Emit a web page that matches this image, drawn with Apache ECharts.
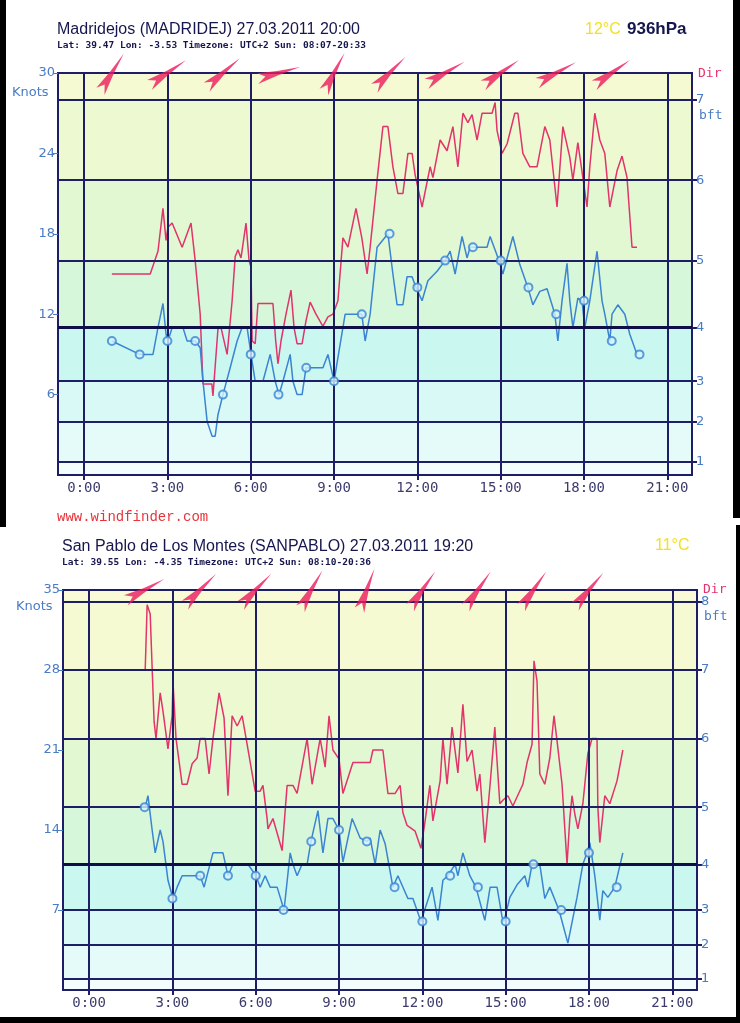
<!DOCTYPE html>
<html><head><meta charset="utf-8">
<script src="https://cdn.jsdelivr.net/npm/echarts@6/dist/echarts.min.js"></script>
<style>html,body{margin:0;padding:0;background:#fff}#c{width:740px;height:1023px}</style>
</head><body><div id="c"></div><script>
// ---------- data ----------
const hourTicks = [0, 3, 6, 9, 12, 15, 18, 21];
const topKnotMax = 30, bottomKnotMax = 35;
const topBft = [1, 4, 7, 11, 16, 22, 28];          // knots at Beaufort 1..7
const bottomBft = [1, 4, 7, 11, 16, 22, 28, 34];   // knots at Beaufort 1..8

// Madridejos gusts [hour, knots]
const topGust = [[1.0,15],[2.38,15],[2.66,16.7],[2.84,19.9],[2.95,17.5],[3.02,18.5],[3.17,18.8],[3.53,17],[3.85,18.8],[4.0,16],[4.18,12],[4.28,6.8],[4.6,6.8],[4.64,5.9],[4.82,10.9],[4.93,11],[5.15,9],[5.33,13],[5.44,16.3],[5.54,16.8],[5.65,16.2],[5.83,18.8],[5.94,16],[6.01,15.5],[6.05,10],[6.16,9.8],[6.26,12.8],[6.8,12.8],[6.9,10],[6.98,8.3],[7.09,10],[7.27,12],[7.45,13.8],[7.56,11],[7.67,9.8],[7.85,9.8],[7.99,11.5],[8.14,12.9],[8.35,12],[8.6,11.1],[8.78,11.8],[8.96,12],[9.14,13],[9.32,17.7],[9.5,17],[9.79,19.9],[10.0,17.7],[10.19,15],[10.3,17],[10.55,22],[10.76,26],[10.94,26],[11.12,23],[11.3,21],[11.48,21],[11.66,24],[11.81,24],[11.92,22.4],[12.17,20],[12.46,23],[12.56,22.2],[12.82,25],[13.07,24.2],[13.28,26],[13.46,23],[13.64,27],[13.82,26.3],[13.97,26.9],[14.15,25],[14.33,27],[14.69,27],[14.8,27.8],[14.87,25.7],[15.05,24],[15.23,24.7],[15.51,27],[15.62,27],[15.8,24],[16.05,23],[16.31,23],[16.59,26],[16.77,25],[17.03,20],[17.24,26],[17.49,23.7],[17.6,22],[17.78,24.8],[17.96,22.2],[18.11,20],[18.21,23],[18.39,27],[18.57,25],[18.75,24],[18.93,20],[19.19,22.7],[19.37,23.8],[19.55,22.2],[19.73,17],[19.91,17]];
// Madridejos average wind [hour, knots]
const topAvg = [[1.0,10],[2.0,9],[2.48,9],[2.66,11],[2.84,12.8],[2.95,10.5],[3.02,10],[3.17,11],[3.56,11],[3.71,10],[4.0,10],[4.18,9.5],[4.28,7],[4.43,4],[4.61,2.9],[4.72,2.9],[4.82,4.5],[5.0,6],[5.26,8],[5.51,10],[5.69,11],[5.87,11],[6.01,9],[6.16,7],[6.44,7],[6.7,9],[6.88,7],[7.02,6],[7.16,7],[7.42,9],[7.52,7],[7.67,6],[7.85,6],[7.99,8],[8.6,8],[8.78,9],[9.0,7],[9.4,12],[9.68,12],[10.0,12],[10.12,10],[10.3,12],[10.55,17],[10.94,18],[11.12,15],[11.27,12.7],[11.48,12.7],[11.63,14.8],[11.81,14.8],[11.95,14],[12.17,13],[12.38,14.5],[12.71,15.2],[13.0,16],[13.18,16.7],[13.36,15],[13.61,17.8],[13.79,16.2],[13.9,17],[14.51,17],[14.62,17.8],[14.94,16],[15.08,15],[15.44,17.8],[15.69,15.7],[15.98,14],[16.16,12.7],[16.41,13.7],[16.67,13.9],[16.85,12.7],[16.95,12],[17.06,10],[17.21,13],[17.39,15.8],[17.49,13],[17.6,11],[17.78,13.2],[17.93,13],[18.03,11],[18.21,13],[18.47,16.7],[18.65,13],[18.75,12],[18.93,10],[19.01,12],[19.22,12.7],[19.47,12],[19.65,10.5],[19.91,9]];
const topHourlyStart = 1;
const topHourly = [10,9,10,10,6,9,6,8,7,12,18,14,16,17,16,14,12,13,10,9];
const topArrowHours = [1,3,5,7,9,11,13,15,17,19];
const topArrowDir = [212,236,229,255,208,225,240,235,242,235];

// San Pablo gusts [hour, knots]
const bottomGust = [[2.02,28],[2.09,33.7],[2.2,32.9],[2.27,28.2],[2.34,23.5],[2.41,22],[2.56,26],[2.66,24.4],[2.84,21.1],[2.99,24],[3.02,27],[3.13,22],[3.35,18],[3.53,18],[3.71,19.8],[3.89,20.3],[4.0,22],[4.18,22],[4.32,18.9],[4.46,22],[4.68,26],[4.86,23.8],[5.0,17],[5.15,24],[5.33,23.1],[5.51,24],[5.69,21.5],[5.98,17.4],[6.16,17.4],[6.26,17.9],[6.41,15],[6.44,14.1],[6.62,15],[6.95,12.2],[7.13,17.9],[7.34,17.9],[7.49,17.2],[7.85,22],[8.03,18],[8.32,22],[8.5,19.5],[8.64,24],[8.78,21],[9.0,20.2],[9.14,17.2],[9.5,19.9],[10.12,19.9],[10.22,21],[10.58,21],[10.76,17.2],[11.02,17.2],[11.2,17.9],[11.3,15.5],[11.45,14.4],[11.74,13.9],[11.95,12.4],[12.1,14.8],[12.27,17.9],[12.38,14.8],[12.64,18.3],[12.74,22],[12.89,18],[13.07,23],[13.28,19],[13.46,25],[13.61,20],[13.79,21],[13.97,17.4],[14.07,18.9],[14.25,12.9],[14.44,18],[14.61,23],[14.79,16.3],[14.9,16.6],[15.08,17],[15.26,16.1],[15.62,18],[15.77,19.9],[15.95,21.5],[16.02,28.8],[16.13,27],[16.23,18.9],[16.41,18],[16.59,20.3],[16.74,24],[16.85,21.8],[17.03,18],[17.21,11],[17.31,15],[17.39,17],[17.49,15.4],[17.6,14.1],[17.78,16.3],[17.96,20.7],[18.11,22],[18.29,22],[18.32,16],[18.39,12.9],[18.57,17],[18.75,16.3],[19.01,18.3],[19.22,21]];
// San Pablo average wind [hour, knots]
const bottomAvg = [[2.02,16],[2.12,17],[2.27,14],[2.38,12],[2.56,14],[2.66,13],[2.84,9.6],[3.02,8],[3.17,9],[3.35,10],[4.0,10],[4.14,9],[4.46,12],[4.82,12],[5.0,10],[5.18,11],[5.72,11],[6.01,10],[6.16,9],[6.34,10],[6.52,9],[6.77,9],[7.02,7],[7.24,12],[7.34,11],[7.49,10],[7.67,11],[7.85,11],[7.99,13],[8.24,15.7],[8.42,12],[8.6,15],[8.78,15],[9.0,14],[9.14,11.2],[9.47,15],[9.76,13.3],[10.01,13],[10.12,13.3],[10.3,11],[10.48,14],[10.66,12.8],[10.94,9],[11.12,10],[11.48,8],[11.66,8],[11.95,6],[12.35,9],[12.56,6.1],[12.74,9.6],[12.92,10],[13.18,11],[13.28,10],[13.46,12],[13.71,10],[13.93,9],[14.25,6.1],[14.44,9],[14.69,9],[14.87,6.4],[14.94,6],[15.15,8.1],[15.41,9.2],[15.69,10],[15.8,9],[15.95,11],[16.23,11],[16.41,8],[16.59,9],[16.92,7],[17.24,4.1],[17.57,8.1],[17.78,11],[17.93,12],[18.03,12.9],[18.21,10],[18.39,6.1],[18.5,8.7],[18.68,8.1],[18.93,9],[19.22,12]];
const bottomHourlyStart = 2;
const bottomHourly = [16,8,10,10,10,7,13,14,13,9,6,10,9,6,11,7,12,9];
const bottomArrowHours = [2,4,6,8,10,12,14,16,18];
const bottomArrowDir = [241,225,224,210,200,215,215,215,220];

// ---------- styles ----------
const NAVY = '#1e1e66', NAVY_DARK = '#0e0e48';
const RED = '#e2336b', BLUE = '#3a84d2', LABEL_BLUE = '#4a7cc4';
const ARROW = 'path://M25 0 L35 52 L50 100 L25 80 L1 96 L15 52 Z';
const bandColors = ['#f3fdfd','#e5fbf9','#d8f9f6','#cbf7f1','#d6f7da','#e2f8d3','#edf9d0','#f5fad2','#f8fbd6'];

function bandGradient(max, thr) {
  const edges = [0].concat(thr.filter(t => t < max)).concat([max]);
  const stops = [];
  for (let i = edges.length - 2; i >= 0; i--) {
    stops.push({offset: 1 - edges[i + 1] / max, color: bandColors[i]});
    stops.push({offset: 1 - edges[i] / max, color: bandColors[i]});
  }
  return {type: 'linear', x: 0, y: 0, x2: 0, y2: 1, colorStops: stops};
}

function panel(idx, max, interval, thr, gust, avg, hStart, hourly, aHours, aDir) {
  const gridLines = hourTicks.map(h => ({xAxis: h}))
    .concat(thr.filter(t => t < max).map(t => ({yAxis: t,
      lineStyle: t === 11 ? {width: 3, color: NAVY_DARK} : {width: 2, color: NAVY}})));
  return {
    xAxis: {gridIndex: idx, type: 'value', min: -0.94, max: 21.89,
      axisLine: {show: false, onZero: false}, splitLine: {show: false},
      axisTick: {show: true, customValues: hourTicks, length: 5, lineStyle: {color: NAVY, width: 2}},
      axisLabel: {customValues: hourTicks, formatter: v => v + ':00', margin: 6,
        color: '#3c3c6c', fontFamily: 'DejaVu Sans Mono', fontSize: 14}},
    yAxes: [
      {gridIndex: idx, type: 'value', min: 0, max: max, interval: interval, position: 'left',
        axisLine: {show: true, onZero: false, lineStyle: {color: NAVY, width: 2}},
        axisTick: {show: true, length: 5, lineStyle: {color: LABEL_BLUE, width: 1}},
        splitLine: {show: false},
        axisLabel: {showMinLabel: false, color: LABEL_BLUE, fontFamily: 'DejaVu Sans', fontSize: 13, margin: 3}},
      {gridIndex: idx, type: 'value', min: 0, max: max, position: 'right',
        axisLine: {show: true, onZero: false, lineStyle: {color: NAVY, width: 2}},
        axisTick: {show: true, customValues: thr, length: 5, lineStyle: {color: NAVY, width: 2}},
        splitLine: {show: false},
        axisLabel: {customValues: thr, formatter: v => String(thr.indexOf(v) + 1),
          color: LABEL_BLUE, fontFamily: 'DejaVu Sans', fontSize: 13, margin: 4}}
    ],
    series: [
      {type: 'line', xAxisIndex: idx, yAxisIndex: idx * 2, data: [], z: 1, silent: true,
        markLine: {symbol: 'none', silent: true, animation: false, label: {show: false},
          lineStyle: {type: 'solid', color: NAVY, width: 2}, data: gridLines}},
      {type: 'line', xAxisIndex: idx, yAxisIndex: idx * 2, data: gust, z: 3, showSymbol: false,
        lineStyle: {color: RED, width: 1.5}, itemStyle: {color: RED}, animation: false},
      {type: 'line', xAxisIndex: idx, yAxisIndex: idx * 2, data: avg, z: 4, showSymbol: false,
        lineStyle: {color: BLUE, width: 1.5}, itemStyle: {color: BLUE}, animation: false},
      {type: 'scatter', xAxisIndex: idx, yAxisIndex: idx * 2, z: 5, symbol: 'circle', symbolSize: 8,
        itemStyle: {color: '#d6f2ff', borderColor: BLUE, borderWidth: 2}, animation: false,
        data: hourly.map((v, i) => [hStart + i, v])},
      {type: 'scatter', xAxisIndex: idx, yAxisIndex: idx * 2, z: 6, clip: false, animation: false,
        symbol: ARROW, symbolKeepAspect: true, symbolSize: [22, 45],
        itemStyle: {color: '#ec1a5c'},
        data: aHours.map((h, i) => ({value: [h, max], symbolRotate: 180 - aDir[i]}))}
    ]
  };
}

const p0 = panel(0, topKnotMax, 6, topBft, topGust, topAvg, topHourlyStart, topHourly, topArrowHours, topArrowDir);
const p1 = panel(1, bottomKnotMax, 7, bottomBft, bottomGust, bottomAvg, bottomHourlyStart, bottomHourly, bottomArrowHours, bottomArrowDir);

const txt = (x, y, text, font, fill) => ({type: 'text', left: x, top: y, silent: true,
  style: {text: text, font: font, fill: fill}});

const option = {
  animation: false,
  backgroundColor: '#ffffff',
  grid: [
    {left: 58, top: 73, width: 634, height: 402, show: true, backgroundColor: bandGradient(topKnotMax, topBft),
      borderColor: NAVY, borderWidth: 2},
    {left: 63, top: 590, width: 634, height: 400, show: true, backgroundColor: bandGradient(bottomKnotMax, bottomBft),
      borderColor: NAVY, borderWidth: 2}
  ],
  xAxis: [p0.xAxis, p1.xAxis],
  yAxis: p0.yAxes.concat(p1.yAxes),
  series: p0.series.concat(p1.series),
  graphic: [
    {type: 'rect', shape: {x: 0, y: 0, width: 6, height: 527}, style: {fill: '#000'}, silent: true},
    {type: 'rect', shape: {x: 733, y: 0, width: 7, height: 518}, style: {fill: '#000'}, silent: true},
    {type: 'rect', shape: {x: 736, y: 525, width: 4, height: 498}, style: {fill: '#000'}, silent: true},
    {type: 'rect', shape: {x: 0, y: 1017, width: 740, height: 6}, style: {fill: '#000'}, silent: true},
    txt(57, 22, 'Madridejos (MADRIDEJ) 27.03.2011 20:00', '16px "Liberation Sans"', '#16164e'),
    txt(57, 41, 'Lat: 39.47 Lon: -3.53 Timezone: UTC+2 Sun: 08:07-20:33', 'bold 9.5px "DejaVu Sans Mono"', '#16164e'),
    txt(585, 22, '12°C', '16px "Liberation Sans"', '#f4e11e'),
    txt(627, 21, '936hPa', 'bold 17px "Liberation Sans"', '#16164e'),
    txt(12, 86, 'Knots', '13px "DejaVu Sans"', LABEL_BLUE),
    txt(698, 67, 'Dir', '13px "DejaVu Sans Mono"', RED),
    txt(699, 109, 'bft', '13px "DejaVu Sans Mono"', LABEL_BLUE),
    txt(57, 510, 'www.windfinder.com', '14px "Liberation Mono"', '#e8333a'),
    txt(62, 539, 'San Pablo de Los Montes (SANPABLO) 27.03.2011 19:20', '16px "Liberation Sans"', '#16164e'),
    txt(62, 558, 'Lat: 39.55 Lon: -4.35 Timezone: UTC+2 Sun: 08:10-20:36', 'bold 9.5px "DejaVu Sans Mono"', '#16164e'),
    txt(655, 538, '11°C', '16px "Liberation Sans"', '#f4e11e'),
    txt(16, 600, 'Knots', '13px "DejaVu Sans"', LABEL_BLUE),
    txt(703, 583, 'Dir', '13px "DejaVu Sans Mono"', RED),
    txt(704, 610, 'bft', '13px "DejaVu Sans Mono"', LABEL_BLUE)
  ]
};
const chart = echarts.init(document.getElementById('c'), null, {renderer: 'canvas', width: 740, height: 1023});
chart.setOption(option);
</script></body></html>
